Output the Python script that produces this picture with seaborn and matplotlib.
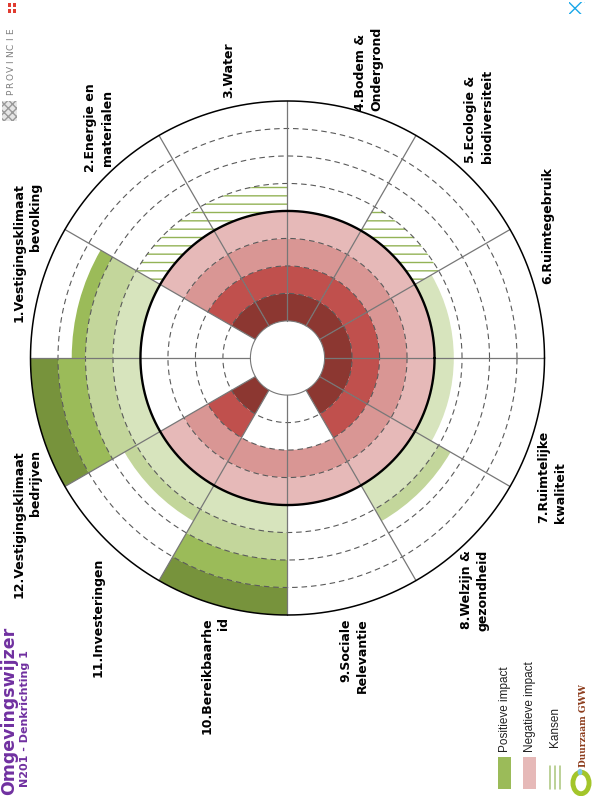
import numpy as np
import pandas as pd
import matplotlib
matplotlib.use("Agg")
import matplotlib.pyplot as plt
import seaborn as sns
from matplotlib.patches import Rectangle, Circle
from matplotlib.lines import Line2D

# ---- data -------------------------------------------------------------
categories = [
    "1.Vestigingsklimaat\nbevolking",
    "2.Energie en\nmaterialen",
    "3.Water",
    "4.Bodem &\nOndergrond",
    "5.Ecologie &\nbiodiversiteit",
    "6.Ruimtegebruik",
    "7.Ruimtelijke\nkwaliteit",
    "8.Welzijn &\ngezondheid",
    "9.Sociale\nRelevantie",
    "10.Bereikbaarhe\nid",
    "11.Investeringen",
    "12.Vestigingsklimaat\nbedrijven",
]
positive = [2.5, 0, 0, 0, 0, 0.7, 0.7, 1.5, 0, 4, 1.5, 4]
negative = [0, 4, 4, 4, 4, 4, 4, 4, 2, 2, 4, 0]
kansen = [0, 1, 1, 0, 1, 0, 0, 0, 0, 0, 0, 0]
legend_labels = ["Positieve impact", "Negatieve impact", "Kansen"]

df = pd.DataFrame({"thema": categories, "positief": positive,
                   "negatief": negative, "kansen": kansen})

# ---- style ------------------------------------------------------------
sns.set_theme(style="white")
plt.rcParams["font.family"] = ["DejaVu Sans"]
plt.rcParams["hatch.linewidth"] = 1.0

red_rings = sns.color_palette(["#8C3731", "#C0504D", "#D99694", "#E6B9B8"])    # inner -> outer
green_rings = sns.color_palette(["#D7E4BD", "#C3D69B", "#9BBB59", "#77933C"])  # inner -> outer
purple = "#7030A0"

W, H = 597, 796
fig = plt.figure(figsize=(W / 100, H / 100), dpi=100)
fig.patch.set_facecolor("white")

CX, CY, RPX = 287.5, 358, 257
ax = fig.add_axes([(CX - RPX) / W, (H - CY - RPX) / H, 2 * RPX / W, 2 * RPX / H],
                  projection="polar")
hole = 1.35
neutral = hole + 4
outer = neutral + 4
ax.set_ylim(0, outer)
ax.set_theta_zero_location("E")
ax.set_theta_direction(1)
ax.grid(False)
ax.set_xticks([])
ax.set_yticks([])
ax.spines["polar"].set_visible(False)
ax.set_facecolor("none")

theta = np.deg2rad(165 - 30 * np.arange(len(df)))
width = np.deg2rad(30)

# negative impact grows inward from the neutral circle
for j in range(4):
    r_out = neutral - (3 - j)
    fill = np.clip(df["negatief"].to_numpy() - (3 - j), 0, 1)
    ax.bar(theta, fill, width=width, bottom=r_out - fill, color=red_rings[j],
           linewidth=0, align="center")

# positive impact grows outward from the neutral circle
for j in range(4):
    fill = np.clip(df["positief"].to_numpy() - j, 0, 1)
    ax.bar(theta, fill, width=width, bottom=neutral + j, color=green_rings[j],
           linewidth=0, align="center")

# opportunities (hatched)
ax.bar(theta, df["kansen"].to_numpy(), width=width, bottom=neutral,
       facecolor="none", edgecolor="#93B356", linewidth=0, hatch="--", align="center")

t = np.linspace(0, 2 * np.pi, 721)
for r in [hole + 1, hole + 2, hole + 3, neutral + 1, neutral + 2, neutral + 3]:
    ax.plot(t, np.full_like(t, r), color="#5A5A5A", lw=0.8, ls=(0, (5, 3.5)), clip_on=False)
for a in np.deg2rad(np.arange(0, 360, 30)):
    ax.plot([a, a], [hole, outer], color="#777777", lw=0.9, clip_on=False)
ax.plot(t, np.full_like(t, hole), color="#777777", lw=0.8, clip_on=False)
ax.plot(t, np.full_like(t, neutral), color="black", lw=1.7, clip_on=False)
ax.plot(t, np.full_like(t, outer), color="black", lw=1.1, clip_on=False)


def ftext(x, y, s, **kw):
    return fig.text(x / W, 1 - y / H, s, rotation=90, rotation_mode="anchor", **kw)


# theme labels: (x, y, ha)
label_pos = [
    (27, 183, "right"), (99, 128, "center"), (229, 70, "center"),
    (369, 111, "left"), (479, 163, "left"), (548, 225, "center"),
    (552, 523, "left"), (475, 550, "right"), (354, 618, "right"),
    (215, 617, "right"), (98, 617, "center"), (27, 450, "right"),
]
for name, (x, y, ha) in zip(df["thema"], label_pos):
    ftext(x, y, name, ha=ha, va="center", multialignment=ha if ha != "center" else "center",
          fontsize=9, fontweight="bold", color="black", linespacing=1.35)

# title block
ftext(14, 627, "Omgevingswijzer", ha="right", va="baseline", fontsize=12.5,
      fontweight="bold", color=purple)
ftext(25.5, 787, "N201 - Denkrichting 1", ha="left", va="center", fontsize=8,
      fontweight="bold", color=purple)

# province mark
for k, ch in enumerate("PROVINCIE"):
    ftext(11, 92 - k * 7.6, ch, ha="center", va="center", fontsize=6.5, color="#7F7F7F")
for (dx, dy) in [(9, 5), (14, 5), (9, 11), (14, 11)]:
    fig.add_artist(Rectangle(((dx - 1.5) / W, 1 - (dy + 1.5) / H), 3 / W, 3 / H,
                             transform=fig.transFigure, color="#E03C31", lw=0))
fig.add_artist(Rectangle((2 / W, 1 - 121 / H), 15 / W, 20 / H, transform=fig.transFigure,
                         facecolor="#E6E6E6", edgecolor="#9A9A9A", lw=0, hatch="xxxx"))
fig.add_artist(Rectangle((569 / W, 1 - 14 / H), 16 / W, 12 / H, transform=fig.transFigure,
                         facecolor="none", edgecolor="#1AA7E8", lw=0, hatch="xx"))

# legend
fig.add_artist(Rectangle((498 / W, 1 - 789 / H), 13 / W, 32 / H, transform=fig.transFigure,
                         color=green_rings[2], lw=0))
fig.add_artist(Rectangle((523 / W, 1 - 789 / H), 13 / W, 32 / H, transform=fig.transFigure,
                         color=red_rings[3], lw=0))
for lx in [549.5, 554.5, 559.5]:
    fig.add_artist(Line2D([lx / W, lx / W], [1 - 789 / H, 1 - 766 / H],
                          transform=fig.transFigure, color="#A9C57A", lw=1.1))
for (x, y), lab in zip([(505, 752), (530, 752), (555, 747)], legend_labels):
    ftext(x, y, lab, ha="left", va="center", fontsize=8.5, color="#222222",
          family=["Liberation Sans", "DejaVu Sans"])

# sustainability logo
fig.add_artist(Circle((581 / W, 1 - 783 / H), 0.0135, transform=fig.transFigure,
                      facecolor="none", edgecolor="#A3C52A", lw=3.5))
fig.add_artist(Circle((580 / W, 1 - 772 / H), 0.004, transform=fig.transFigure,
                      facecolor="#7EC8E3", lw=0))
ftext(583, 767, "Duurzaam GWW", ha="left", va="center", fontsize=6.5, fontweight="bold",
      color="#8B3A1A", family=["DejaVu Serif"])

fig.savefig("out.png", dpi=100, facecolor="white")
